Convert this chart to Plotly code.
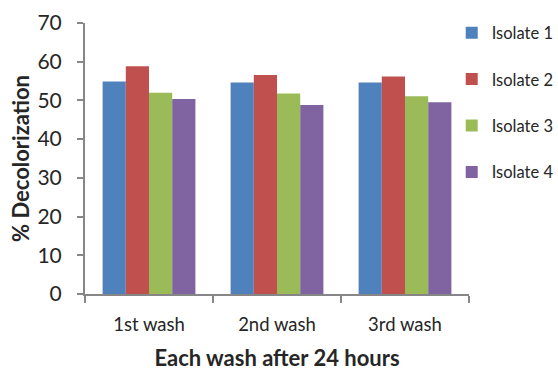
import plotly.graph_objects as go

washes = ["1st wash", "2nd wash", "3rd wash"]
isolates = ["Isolate 1", "Isolate 2", "Isolate 3", "Isolate 4"]
isolate_1 = [54.9, 54.6, 54.6]
isolate_2 = [58.8, 56.6, 56.2]
isolate_3 = [52.0, 51.8, 51.1]
isolate_4 = [50.4, 48.8, 49.5]
colors = ["#4F81BD", "#C0504D", "#9BBB59", "#8064A2"]
y_ticks = [0, 10, 20, 30, 40, 50, 60, 70]

series = [isolate_1, isolate_2, isolate_3, isolate_4]

fig = go.Figure()
for i, (name, vals) in enumerate(zip(isolates, series)):
    fig.add_trace(go.Bar(
        x=washes, y=vals, name=name, legendgroup=name,
        marker=dict(color=colors[i], line=dict(width=0)),
    ))

font_family = "Lato, 'Open Sans', sans-serif"
axis_grey = "#868686"

fig.update_layout(
    width=558, height=371,
    margin=dict(l=85, r=89, t=23, b=77, autoexpand=False),
    paper_bgcolor="white", plot_bgcolor="white",
    barmode="group", bargap=0.275, bargroupgap=0,
    font=dict(family=font_family, color="#262626"),
    showlegend=True,
    legend=dict(
        x=0.955, y=1.028, xanchor="left", yanchor="top",
        font=dict(size=16.5, family=font_family, color="#262626"),
        tracegroupgap=22, itemwidth=30,
    ),
    xaxis=dict(
        type="category",
        showline=True, linecolor=axis_grey, linewidth=2,
        ticks="outside", tickson="boundaries", ticklen=7, tickcolor=axis_grey, tickwidth=1.5,
        tickfont=dict(size=18.5), ticklabelstandoff=13,
        title=dict(text="<b>Each wash after 24 hours</b>", font=dict(size=22), standoff=22),
        showgrid=False,
    ),
    yaxis=dict(
        range=[0, 70], tickvals=y_ticks,
        showline=True, linecolor=axis_grey, linewidth=2,
        ticks="outside", ticklen=6, tickcolor=axis_grey, tickwidth=1.5,
        tickfont=dict(size=21), ticklabelstandoff=11,
        title=dict(text="<b>% Decolorization</b>", font=dict(size=22), standoff=2),
        showgrid=False, zeroline=False,
    ),
)

fig.write_html("out.html")
